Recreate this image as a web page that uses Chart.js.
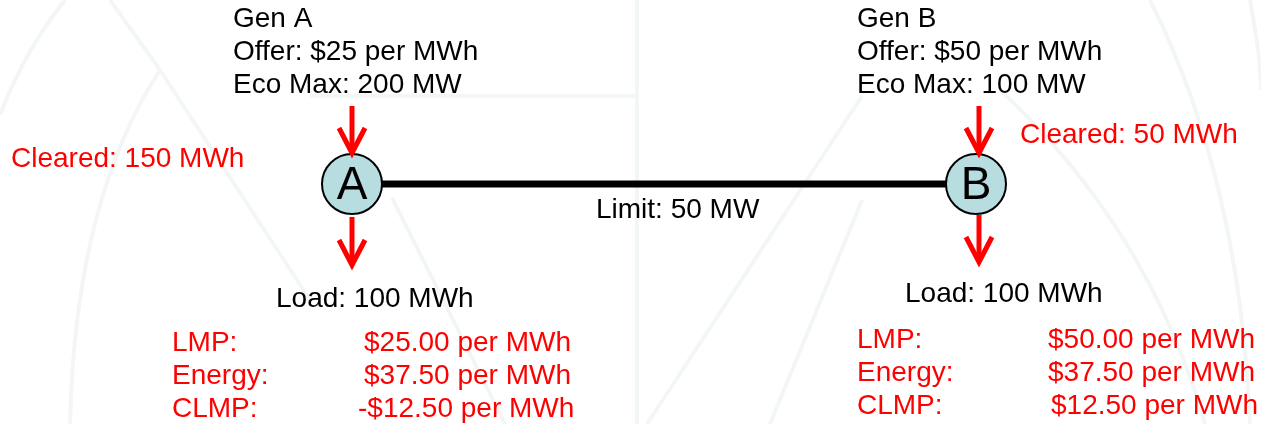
<!DOCTYPE html>
<html>
<head>
<meta charset="utf-8">
<title>Two-node LMP example</title>
<script src="https://cdn.jsdelivr.net/npm/chart.js@4"></script>
<style>
    body { margin: 0; background: #ffffff; }
    #wrap { width: 1261px; height: 424px; }
</style>
</head>
<body>
<div id="wrap"><canvas id="lmpChart" width="1261" height="424"></canvas></div>
<script>
// Diagram data
const nodeNames = ['A', 'B'];
const nodeX = [352, 976];
const nodeY = [184, 184];
const genNames = ['Gen A', 'Gen B'];
const offerPrice = [25, 50];      // $ per MWh
const ecoMax = [200, 100];        // MW
const clearedMWh = [150, 50];
const loadMWh = [100, 100];
const lmpPrice = [25, 50];
const energyPrice = [37.5, 37.5];
const clmpPrice = [-12.5, 12.5];
const lineLimitMW = 50;

const FONT = '"Liberation Sans", Arial, Helvetica, sans-serif';
const RED = '#ff0000';

function money(v) {
    return (v < 0 ? '-$' : '$') + Math.abs(v).toFixed(2) + ' per MWh';
}

// faint logo watermark behind everything
const watermark = {
    id: 'watermark',
    beforeDraw(chart) {
        const ctx = chart.ctx;
        ctx.save();
        ctx.strokeStyle = '#f2f7f5';
        ctx.lineWidth = 4;
        ctx.beginPath();
        ctx.moveTo(637, 0); ctx.lineTo(637, 424);
        ctx.moveTo(310, 96); ctx.lineTo(637, 96);
        ctx.moveTo(392, 198); ctx.lineTo(505, 424);
        ctx.moveTo(862, 96); ctx.lineTo(647, 424);
        ctx.moveTo(862, 200); ctx.lineTo(770, 424);
        ctx.moveTo(0, 115); ctx.quadraticCurveTo(25, 50, 65, 0);
        ctx.moveTo(70, 424); ctx.quadraticCurveTo(75, 200, 160, 70);
        ctx.moveTo(110, 0); ctx.lineTo(160, 70);
        ctx.moveTo(160, 70); ctx.lineTo(310, 300);
        ctx.moveTo(1150, 0); ctx.quadraticCurveTo(1240, 180, 1250, 424);
        ctx.moveTo(1000, 90); ctx.quadraticCurveTo(1150, 230, 1205, 424);
        ctx.moveTo(1250, 0); ctx.quadraticCurveTo(1261, 60, 1261, 90);
        ctx.stroke();
        ctx.restore();
    }
};

// arrows, node letters and text blocks
const annotations = {
    id: 'annotations',
    afterDatasetsDraw(chart) {
        const ctx = chart.ctx;
        const xs = chart.scales.x;
        const ys = chart.scales.y;

        function arrow(x, y1, y2) {
            const px = xs.getPixelForValue(x);
            const p1 = ys.getPixelForValue(y1);
            const p2 = ys.getPixelForValue(y2);
            ctx.save();
            ctx.strokeStyle = RED;
            ctx.lineWidth = 5;
            ctx.beginPath();
            ctx.moveTo(px, p1); ctx.lineTo(px, p2 - 2);
            ctx.stroke();
            ctx.beginPath();
            ctx.moveTo(px - 13, p2 - 25); ctx.lineTo(px, p2); ctx.lineTo(px + 13, p2 - 25);
            ctx.stroke();
            ctx.restore();
        }

        function text(str, x, y, color, size) {
            ctx.save();
            ctx.font = (size || 28) + 'px ' + FONT;
            ctx.fillStyle = color || '#000000';
            ctx.textBaseline = 'alphabetic';
            ctx.textAlign = 'left';
            ctx.fillText(str, x, y);
            ctx.restore();
        }

        // generator (in) and load (out) arrows
        arrow(nodeX[0], 106, nodeY[0] - 31);
        arrow(nodeX[0], nodeY[0] + 33, 265);
        arrow(nodeX[1] + 3, 106, nodeY[1] - 31);
        arrow(nodeX[1] + 3, nodeY[1] + 31, 262);

        // node letters
        nodeNames.forEach((n, i) => {
            ctx.save();
            ctx.font = '46px ' + FONT;
            ctx.fillStyle = '#000000';
            ctx.textAlign = 'center';
            ctx.textBaseline = 'middle';
            ctx.fillText(n, xs.getPixelForValue(nodeX[i]), ys.getPixelForValue(nodeY[i]) + 2);
            ctx.restore();
        });

        // generator info
        const genLeft = [233, 857];
        genNames.forEach((g, i) => {
            text(g, genLeft[i], 27);
            text('Offer: $' + offerPrice[i] + ' per MWh', genLeft[i], 60);
            text('Eco Max: ' + ecoMax[i] + ' MW', genLeft[i], 93);
        });

        text('Cleared: ' + clearedMWh[0] + ' MWh', 11, 167, RED);
        text('Cleared: ' + clearedMWh[1] + ' MWh', 1020, 143, RED);
        text('Limit: ' + lineLimitMW + ' MW', 596, 218);
        text('Load: ' + loadMWh[0] + ' MWh', 276, 307);
        text('Load: ' + loadMWh[1] + ' MWh', 905, 302);

        // price breakdown
        const labelLeft = [172, 857];
        const valueLeft = [[364, 364, 358], [1048, 1048, 1051]];
        const rowBase = [[351, 384, 417], [348, 381, 414]];
        [0, 1].forEach(i => {
            text('LMP:', labelLeft[i], rowBase[i][0], RED);
            text('Energy:', labelLeft[i], rowBase[i][1], RED);
            text('CLMP:', labelLeft[i], rowBase[i][2], RED);
            text(money(lmpPrice[i]), valueLeft[i][0], rowBase[i][0], RED);
            text(money(energyPrice[i]), valueLeft[i][1], rowBase[i][1], RED);
            text(money(clmpPrice[i]), valueLeft[i][2], rowBase[i][2], RED);
        });
    }
};

const ctx = document.getElementById('lmpChart').getContext('2d');
new Chart(ctx, {
    type: 'scatter',
    data: {
        datasets: [
            {
                label: 'Nodes',
                data: nodeX.map((x, i) => ({ x: x, y: nodeY[i] })),
                pointRadius: 30,
                pointBackgroundColor: '#b7dde1',
                pointBorderColor: '#000000',
                pointBorderWidth: 2,
                order: 1
            },
            {
                label: 'Line',
                type: 'line',
                data: nodeX.map((x, i) => ({ x: x, y: nodeY[i] })),
                borderColor: '#000000',
                borderWidth: 7,
                pointRadius: 0,
                fill: false,
                order: 2
            }
        ]
    },
    options: {
        responsive: false,
        animation: false,
        layout: { padding: 0, autoPadding: false },
        plugins: {
            legend: { display: false },
            tooltip: { enabled: false }
        },
        scales: {
            x: { type: 'linear', min: 0, max: 1261, display: false },
            y: { type: 'linear', min: 0, max: 424, reverse: true, display: false }
        }
    },
    plugins: [watermark, annotations]
});
</script>
</body>
</html>
